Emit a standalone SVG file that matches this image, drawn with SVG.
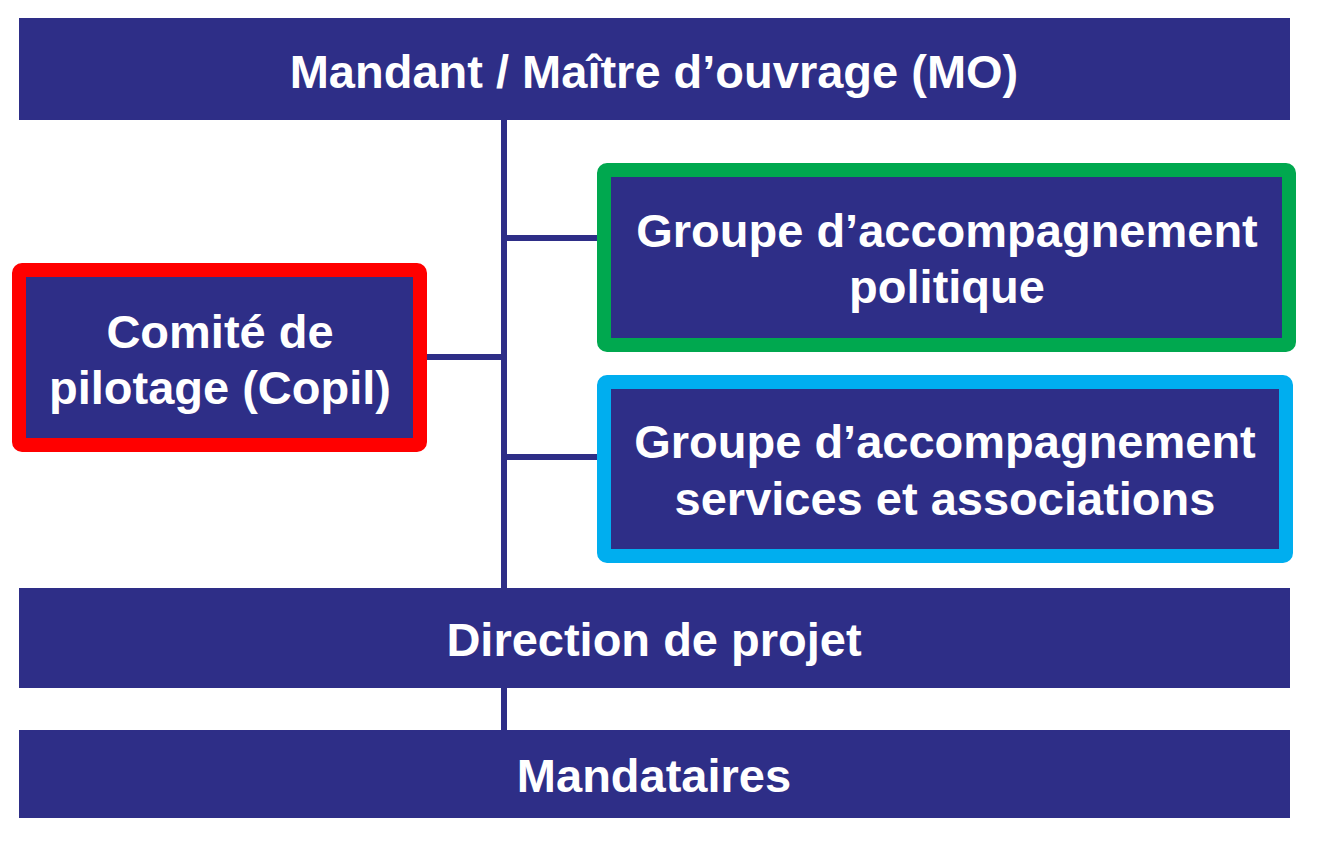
<svg xmlns="http://www.w3.org/2000/svg" width="1320" height="846" viewBox="0 0 1320 846">
<style>
.bar{fill:#2E2E87}
.box{fill:#2E2E87;stroke-width:14}
text{font-family:"Liberation Sans",Arial,sans-serif;font-weight:bold;fill:#fff;text-anchor:middle;font-size:47px}
.ln{stroke:#2E2E87;stroke-width:6;fill:none}
</style>
<rect width="1320" height="846" fill="#fff"/>
<g id="connectors">
<line class="ln" x1="504" y1="118" x2="504" y2="590"/>
<line class="ln" x1="504" y1="686" x2="504" y2="732"/>
<line class="ln" x1="425" y1="357" x2="504" y2="357"/>
<line class="ln" x1="504" y1="238" x2="599" y2="238"/>
<line class="ln" x1="504" y1="457" x2="599" y2="457"/>
</g>
<g id="mo"><rect class="bar" x="19" y="18" width="1271" height="102"/><text x="654" y="88">Mandant / Maître d’ouvrage (MO)</text></g>
<g id="copil"><rect class="box" x="19" y="270" width="401" height="175" rx="3" stroke="#FF0000" fill="#333399"/><text x="220" y="348">Comité de</text><text x="220" y="404">pilotage (Copil)</text></g>
<g id="gap"><rect class="box" x="604" y="170" width="685" height="175" rx="3" stroke="#00A84F"/><text x="947" y="247">Groupe d’accompagnement</text><text x="947" y="303">politique</text></g>
<g id="gasa"><rect class="box" x="604" y="382" width="682" height="174" rx="3" stroke="#00AEEF"/><text x="945" y="458">Groupe d’accompagnement</text><text x="945" y="515">services et associations</text></g>
<g id="dp"><rect class="bar" x="19" y="588" width="1271" height="100"/><text x="654" y="656">Direction de projet</text></g>
<g id="mand"><rect class="bar" x="19" y="730" width="1271" height="88"/><text x="654" y="792">Mandataires</text></g>
</svg>
